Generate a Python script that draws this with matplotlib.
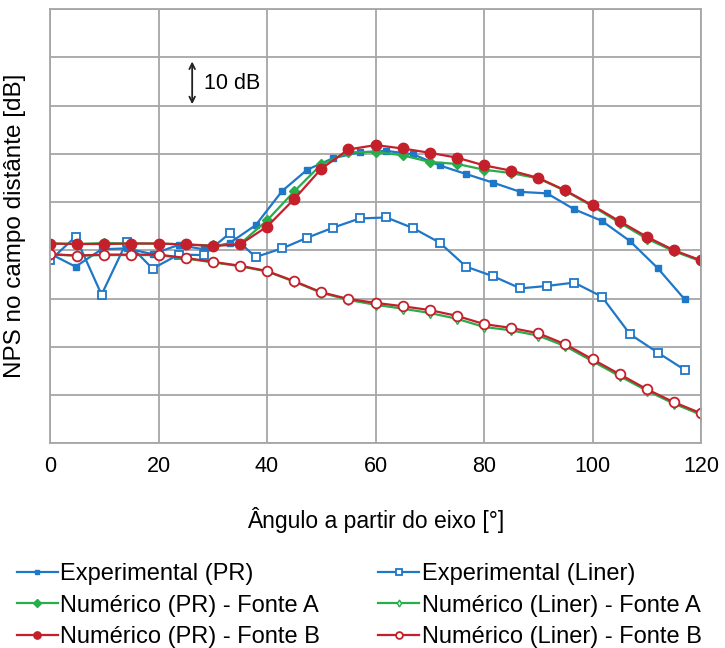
import numpy as np
import matplotlib
matplotlib.use("Agg")
import matplotlib.pyplot as plt

plt.rcParams['font.family'] = ['Liberation Sans', 'DejaVu Sans']

# Numerical angles (every 5 degrees)
ang_num = [0, 5, 10, 15, 20, 25, 30, 35, 40, 45, 50, 55, 60,
           65, 70, 75, 80, 85, 90, 95, 100, 105, 110, 115, 120]
# Experimental microphone angles
ang_exp = [0, 4.7, 9.5, 14.1, 18.9, 23.7, 28.3, 33.1, 37.9, 42.8, 47.4, 52.2, 57.1,
           62.0, 66.9, 71.8, 76.7, 81.7, 86.7, 91.6, 96.6, 101.7, 106.9, 112.0, 117.0]

# Sound pressure levels (arbitrary dB offset, 10 dB per grid line)
exp_pr = [39.3, 36.6, 40.2, 40.4, 39.2, 41.1, 40.2, 41.5, 45.2, 52.3, 56.7, 59.1, 60.3,
          60.6, 59.9, 57.6, 55.8, 54.0, 52.1, 51.8, 48.5, 46.1, 41.9, 36.3, 29.8]
exp_liner = [37.9, 42.8, 30.8, 41.7, 36.2, 39.1, 39.0, 43.5, 38.6, 40.4, 42.6, 44.7, 46.6,
             46.8, 44.6, 41.6, 36.6, 34.6, 32.1, 32.6, 33.3, 30.4, 22.6, 18.8, 15.2]
num_pr_a = [41.4, 41.3, 41.5, 41.4, 41.4, 41.2, 41.0, 41.3, 46.2, 52.2, 57.8, 60.3, 60.4,
            59.7, 58.3, 57.9, 56.7, 56.0, 54.9, 52.3, 49.1, 45.7, 42.4, 39.8, 37.7]
num_pr_b = [41.4, 41.3, 41.3, 41.4, 41.4, 41.2, 40.9, 41.2, 44.9, 50.6, 56.9, 60.9, 61.8,
            61.1, 60.2, 59.2, 57.6, 56.5, 55.0, 52.4, 49.3, 46.0, 42.8, 40.0, 37.9]
num_liner_a = [39.1, 38.9, 39.0, 39.0, 39.0, 38.3, 37.5, 36.7, 35.6, 33.5, 31.2, 29.7, 28.7,
               27.9, 27.0, 25.8, 24.1, 23.4, 22.3, 20.1, 17.0, 13.9, 10.9, 8.2, 5.9]
num_liner_b = [39.2, 38.9, 39.1, 39.1, 39.1, 38.4, 37.6, 36.8, 35.7, 33.6, 31.3, 29.9, 29.1,
               28.4, 27.6, 26.4, 24.7, 23.9, 22.8, 20.5, 17.4, 14.3, 11.2, 8.5, 6.2]

blue = '#1f77c8'
green = '#27ad4a'
red = '#c4202b'

fig = plt.figure(figsize=(7.25, 6.48), dpi=100)
ax = fig.add_axes([0.069, 0.316, 0.898, 0.670])

lw = 1.6
h_exp_pr, = ax.plot(ang_exp, exp_pr, color=blue, lw=lw, marker='s', ms=5,
                    label='Experimental (PR)')
h_exp_liner, = ax.plot(ang_exp, exp_liner, color=blue, lw=lw, marker='s', ms=5.5,
                       mfc='white', mec=blue, mew=1.3, label='Experimental (Liner)')
h_pr_a, = ax.plot(ang_num, num_pr_a, color=green, lw=lw, marker='D', ms=5.5,
                  label='Numérico (PR) - Fonte A')
h_liner_a, = ax.plot(ang_num, num_liner_a, color=green, lw=lw, marker='d', ms=5,
                     mfc='white', mec=green, mew=1.0, label='Numérico (Liner) - Fonte A')
h_pr_b, = ax.plot(ang_num, num_pr_b, color=red, lw=lw, marker='o', ms=7.5,
                  label='Numérico (PR) - Fonte B')
h_liner_b, = ax.plot(ang_num, num_liner_b, color=red, lw=lw, marker='o', ms=7,
                     mfc='white', mec=red, mew=1.3, label='Numérico (Liner) - Fonte B')

ax.set_xlim(0, 120)
ax.set_ylim(0, 90)
ax.set_xticks(np.arange(0, 121, 20))
ax.set_yticks(np.arange(0, 91, 10))
ax.set_yticklabels([])
ax.tick_params(length=0, labelsize=15.5, pad=9)
ax.grid(True, color='#a6a6a6', lw=1.3)
ax.set_axisbelow(True)
for s in ax.spines.values():
    s.set_color('#a6a6a6')
    s.set_linewidth(1.3)

ax.set_xlabel('Ângulo a partir do eixo [°]', fontsize=16.5, labelpad=22)
ax.set_ylabel('NPS no campo distânte [dB]', fontsize=17.5, labelpad=8)

# 10 dB scale arrow
ax.annotate('', xy=(26.2, 79.7), xytext=(26.2, 69.7),
            arrowprops=dict(arrowstyle='<->', color='#222222', lw=1.3))
ax.text(28.3, 74.6, '10 dB', fontsize=15.5, va='center', ha='left')

handles = [h_exp_pr, h_pr_a, h_pr_b, h_exp_liner, h_liner_a, h_liner_b]
fig.legend(handles=handles, labels=[h.get_label() for h in handles],
           loc='upper left', bbox_to_anchor=(0.023, 0.131), ncol=2,
           frameon=False, fontsize=17, handlelength=1.75, handletextpad=0.1,
           labelspacing=0.4, columnspacing=2.45, borderaxespad=0, borderpad=0,
           markerscale=0.7)

fig.savefig('out.png', dpi=100)
